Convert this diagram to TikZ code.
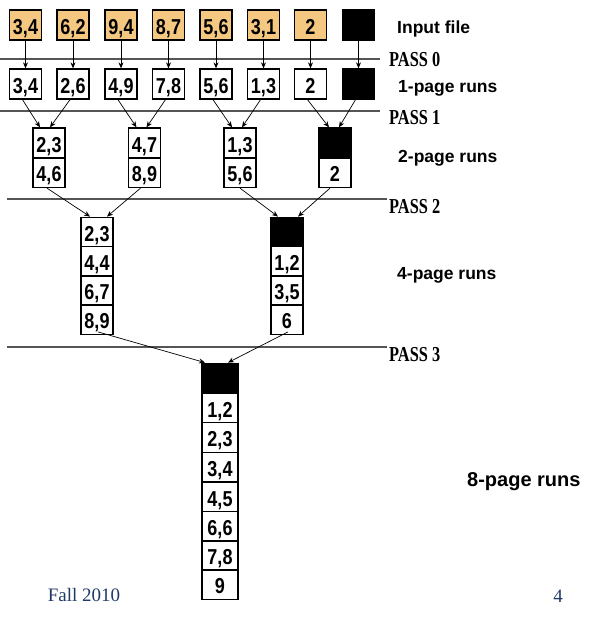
\documentclass[tikz,border=0pt]{standalone}
\usepackage{fontspec}
\setmainfont{Liberation Serif}
\setsansfont{Liberation Sans}
\usetikzlibrary{arrows.meta}
\definecolor{inorange}{HTML}{F5C882}
\definecolor{slideblue}{HTML}{1F3A68}
\definecolor{passgray}{HTML}{555555}
\newcommand{\nm}[1]{\scalebox{0.9}[1.08]{#1}}
\newcommand{\ps}[1]{\scalebox{0.86}[1.12]{#1}}
\tikzset{
  page/.style={draw=black,line width=1.3pt,minimum width=32pt,minimum height=30pt,inner sep=0pt,
    text height=24pt,text depth=6pt,
    font=\sffamily\bfseries\fontsize{20}{20}\selectfont},
  inpage/.style={page,fill=inorange},
  blackpage/.style={page,fill=black},
  page2/.style={page,minimum height=29.5pt,text height=23.75pt,text depth=5.75pt},
  blackpage2/.style={page2,fill=black},
  wpage/.style={page2,minimum width=36pt},
  wblackpage/.style={wpage,fill=black},
  conn/.style={-{Stealth[length=6pt,width=5pt]},line width=0.7pt},
  passline/.style={line width=1.4pt,draw=passgray},
  passlabel/.style={anchor=west,font=\bfseries\fontsize{19}{19}\selectfont,inner sep=0pt},
  runlabel/.style={anchor=west,font=\sffamily\bfseries\fontsize{17.5}{17.5}\selectfont,inner sep=0pt},
}
\begin{document}
\begin{tikzpicture}[x=1pt,y=-1pt]
\useasboundingbox (0,0) rectangle (600,621);
% input file
\node[inpage] (i1) at (25.5,25) {\nm{3,4}};
\node[inpage] (i2) at (73,25) {\nm{6,2}};
\node[inpage] (i3) at (121,25) {\nm{9,4}};
\node[inpage] (i4) at (168.5,25) {\nm{8,7}};
\node[inpage] (i5) at (216,25) {\nm{5,6}};
\node[inpage] (i6) at (263.5,25) {\nm{3,1}};
\node[inpage] (i7) at (310.5,25) {\nm{2}};
\node[blackpage] (i8) at (358.5,25) {};
\node[runlabel] (lin) at (397,29) {Input file};
% pass 0
\coordinate (p0a) at (0,59);
\coordinate (p0b) at (380,59);
\draw[passline] (p0a) -- (p0b);
\node[passlabel] (p0) at (389,60) {\ps{PASS 0}};
% 1-page runs
\node[page] (a1) at (25.5,84) {\nm{3,4}};
\node[page] (a2) at (73,84) {\nm{2,6}};
\node[page] (a3) at (121,84) {\nm{4,9}};
\node[page] (a4) at (168.5,84) {\nm{7,8}};
\node[page] (a5) at (216,84) {\nm{5,6}};
\node[page] (a6) at (263.5,84) {\nm{1,3}};
\node[page] (a7) at (310.5,84) {\nm{2}};
\node[blackpage] (a8) at (358.5,84) {};
\node[runlabel] (l1) at (398,88) {1-page runs};
\foreach \k in {1,...,8} { \draw[conn] (i\k.south) -- (a\k.north); }
% pass 1
\coordinate (p1a) at (0,111);
\coordinate (p1b) at (380,111);
\draw[passline] (p1a) -- (p1b);
\node[passlabel] (p1) at (389,118) {\ps{PASS 1}};
% 2-page runs
\node[page] (b1t) at (49,143) {\nm{2,3}};
\node[page] (b1b) at (49,172.5) {\nm{4,6}};
\node[page] (b2t) at (144.5,143) {\nm{4,7}};
\node[page] (b2b) at (144.5,172.5) {\nm{8,9}};
\node[page] (b3t) at (240,143) {\nm{1,3}};
\node[page] (b3b) at (240,172.5) {\nm{5,6}};
\node[blackpage] (b4t) at (335,143) {};
\node[page] (b4b) at (335,172.5) {\nm{2}};
\node[runlabel] (l2) at (398,158) {2-page runs};
\draw[conn] ([xshift=-3pt]a1.south) -- ([xshift=-9pt]b1t.north);
\draw[conn] ([xshift=-3pt]a2.south) -- ([xshift=1pt]b1t.north);
\draw[conn] ([xshift=-3pt]a3.south) -- ([xshift=-8pt]b2t.north);
\draw[conn] ([xshift=-3pt]a4.south) -- ([xshift=2pt]b2t.north);
\draw[conn] ([xshift=-3pt]a5.south) -- ([xshift=-8pt]b3t.north);
\draw[conn] ([xshift=-3pt]a6.south) -- ([xshift=2pt]b3t.north);
\draw[conn] ([xshift=-3pt]a7.south) -- ([xshift=-6pt]b4t.north);
\draw[conn] ([xshift=-3pt]a8.south) -- ([xshift=4pt]b4t.north);
% pass 2
\coordinate (p2a) at (7,199);
\coordinate (p2b) at (387,199);
\draw[passline] (p2a) -- (p2b);
\node[passlabel] (p2) at (389,207) {\ps{PASS 2}};
% 4-page runs
\node[page2] (c11) at (97,232) {\nm{2,3}};
\node[page2] (c12) at (97,261.5) {\nm{4,4}};
\node[page2] (c13) at (97,290.5) {\nm{6,7}};
\node[page2] (c14) at (97,319.5) {\nm{8,9}};
\node[blackpage2] (c21) at (287,232) {};
\node[page2] (c22) at (287,261.5) {\nm{1,2}};
\node[page2] (c23) at (287,290.5) {\nm{3,5}};
\node[page2] (c24) at (287,319.5) {\nm{6}};
\node[runlabel] (l4) at (397,275) {4-page runs};
\draw[conn] ([xshift=-2pt]b1b.south) -- ([xshift=-7pt]c11.north);
\draw[conn] ([xshift=-4pt]b2b.south) -- ([xshift=10pt]c11.north);
\draw[conn] ([xshift=0pt]b3b.south) -- ([xshift=-9pt]c21.north);
\draw[conn] ([xshift=-5pt]b4b.south) -- ([xshift=11pt]c21.north);
% pass 3
\coordinate (p3a) at (7,347);
\coordinate (p3b) at (387,347);
\draw[passline] (p3a) -- (p3b);
\node[passlabel] (p3) at (389,355) {\ps{PASS 3}};
% 8-page runs
\node[wblackpage] (d1) at (220,378) {};
\node[wpage] (d2) at (220,408) {\nm{1,2}};
\node[wpage] (d3) at (220,437.5) {\nm{2,3}};
\node[wpage] (d4) at (220,467) {\nm{3,4}};
\node[wpage] (d5) at (220,497) {\nm{4,5}};
\node[wpage] (d6) at (220,526.5) {\nm{6,6}};
\node[wpage] (d7) at (220,555.5) {\nm{7,8}};
\node[wpage] (d8) at (220,584.5) {\nm{9}};
\node[runlabel,font=\sffamily\bfseries\fontsize{20}{20}\selectfont] (l8) at (467,482) {8-page runs};
\draw[conn] ([xshift=1pt,yshift=3pt]c14.south) -- ([xshift=-15pt]d1.north);
\draw[conn] ([xshift=1pt,yshift=3pt]c24.south) -- ([xshift=8pt]d1.north);
% footer
\node[text=slideblue,font=\fontsize{19}{19}\selectfont,inner sep=0pt] (fall) at (84,595) {Fall 2010};
\node[text=slideblue,font=\fontsize{19}{19}\selectfont,inner sep=0pt] (num) at (558,596) {4};
\end{tikzpicture}
\end{document}
